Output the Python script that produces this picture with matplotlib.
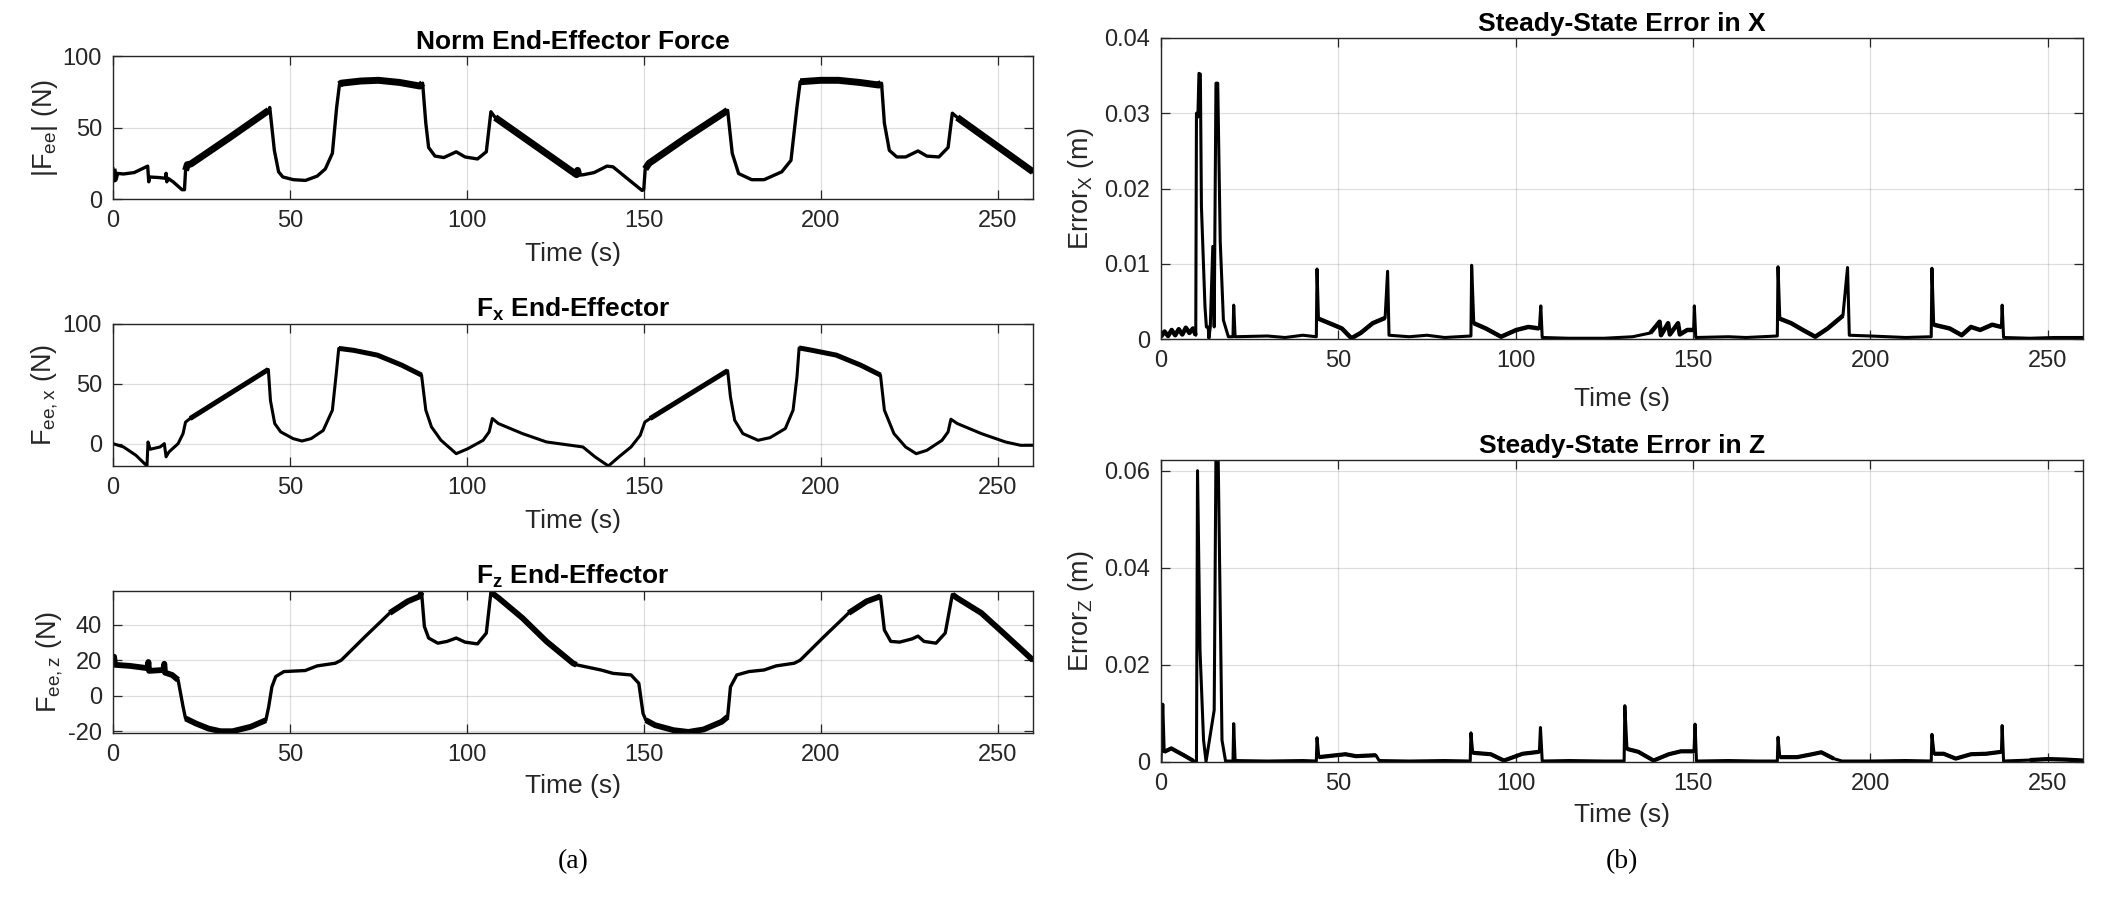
import matplotlib
matplotlib.use("Agg")
import matplotlib.pyplot as plt
from matplotlib.ticker import FuncFormatter

# ---------------- data ----------------
t_norm = [0, 0.4, 0.8, 3, 6, 9.8, 10.1, 10.3, 13, 14.8, 15, 15.2, 15.5, 17, 19.5, 20.2,
          20.5, 21, 22, 33, 44, 44.3, 45.6, 46.8, 48, 51, 54.4, 57.7, 60, 62, 63.2, 64,
          64.5, 70, 75, 81, 86.7, 87.5, 88.4, 89.2, 91, 93.5, 97, 99.5, 103, 105.5, 106.8,
          108, 131, 131.3, 131.6, 133, 136, 139.6, 141.3, 145, 149.5, 150, 150.4, 151.5,
          162, 173.7, 175, 176.8, 180.5, 184, 189, 191.6, 193.3, 194.2, 200, 205, 211,
          216.4, 217.2, 218, 219.4, 221.5, 224, 227.5, 230, 233.4, 236, 237.2, 238.6, 260]
f_norm = [21, 14, 18, 17.5, 18.5, 23, 12, 15.4, 15, 14.5, 18, 12, 14.5, 12, 6.5, 6.5,
          20, 24, 24.5, 43, 62, 64, 34, 19, 15.4, 13.5, 13, 16, 21, 32, 64, 80,
          81, 82.5, 83, 81.5, 79, 81, 53, 36, 30, 29, 33, 29.4, 28, 33, 61,
          57, 17, 20, 16.6, 17, 18.5, 23, 22.5, 15, 6, 6.5, 21, 25,
          43, 62, 32, 17.8, 13.5, 13.5, 19, 27, 64.5, 82, 83, 83, 81.5,
          79.7, 81, 53, 34, 29.4, 29.4, 33.6, 30, 29.4, 36, 60, 57, 19]
noisy_norm = [(0, 0.8), (20.5, 44), (64, 87.5), (108, 131.6), (150.4, 173.7),
              (194.2, 217.2), (238.6, 260)]

t_fx = [0, 3, 6.5, 9.6, 9.9, 10.5, 13.3, 14.5, 15, 15.8, 18.4, 19.8, 20.5, 21.8, 43.9,
        44.5, 45.7, 47.4, 50.9, 53.4, 56, 59.4, 62, 63.1, 63.8, 68, 74.7, 81.6, 87.2,
        88.4, 90, 92.7, 97, 100.3, 104.6, 106.3, 107.2, 108.9, 115.7, 122.5, 129.4,
        132.8, 136.2, 140, 143, 146.4, 149, 150.3, 151.8, 173.7, 174.5, 175.7, 178,
        182.3, 185.7, 190, 192.2, 193.3, 193.9, 197.6, 204.4, 211.3, 216.9, 218, 220.7,
        224, 227, 230, 234.3, 236, 236.8, 238.6, 245.4, 252.2, 256.5, 260]
f_x = [0, -2.8, -9.8, -18.7, 1.4, -4.7, -2.8, 0, -11, -7, 0, 8.4, 18, 21, 62,
       36, 16.8, 9.8, 4.2, 2.2, 4.2, 11, 28, 58.7, 79.6, 78, 74, 65.6, 57.3,
       28, 14, 2.8, -8.4, -4.2, 2.8, 9.8, 21, 16.8, 8.4, 1.4, -1.4,
       -2.8, -11, -18.7, -11, -2.8, 7, 18, 21, 61, 39, 19.5, 8.4,
       2.8, 5, 12.6, 28, 56, 80, 78, 74, 65.6, 57.3, 28, 8.4,
       -2.8, -8.4, -5.6, 2.8, 9.8, 20.4, 16.8, 8.4, 1.4, -1.4, -1.4]
noisy_fx = [(21.8, 43.9), (63.8, 87.2), (151.8, 173.7), (193.9, 216.9)]

t_fz = [0, 0.3, 0.6, 4.8, 9.8, 10, 10.2, 14.2, 14.5, 14.7, 16.7, 18.4, 19.8, 20.5, 23.5,
        27, 30.4, 33.8, 38.9, 43.2, 44, 44.9, 46, 48.3, 54.3, 57.7, 62.8, 64.5, 71.3,
        78.2, 83.3, 86.7, 87.2, 88, 89.2, 91.8, 94.4, 97, 99.5, 103, 105.5, 106.8, 109,
        115.7, 122.5, 130, 131, 137.9, 141.3, 146.4, 148.6, 149.8, 150.6, 153.2, 158.4,
        162.6, 166.9, 172, 173.7, 174.5, 176.3, 179.7, 184, 187.4, 192.5, 194.2, 201,
        207.9, 213, 216.9, 218, 219.8, 222.3, 225.8, 227.5, 229.2, 232.6, 235.2, 237.2,
        238.6, 245.4, 252.2, 260]
f_z = [20, 22, 17.4, 16.8, 15.5, 19, 14, 14.5, 18, 13, 11.7, 8.9, -6.2, -12.8, -15.7,
       -18.5, -20, -20, -17.5, -13.8, -6.2, 5, 10.8, 13.6, 14.2, 16.8, 18.3, 20, 33.4,
       46.6, 53.2, 56, 58.3, 39, 32.5, 29.6, 30.6, 32.5, 30.2, 29.2, 35.3, 58.3, 55,
       43.8, 30.6, 18.3, 17.4, 14.5, 12.6, 11.7, 7, -10, -13.8, -16.6, -19.4,
       -20.4, -19, -14.7, -11.9, 5, 11.7, 13.6, 14.5, 16.8, 18.3, 20, 33.4,
       46.6, 53.2, 56, 37, 30.6, 30.2, 32, 33.6, 30.6, 29.6, 35.3, 57,
       55, 46.6, 34.3, 20]
noisy_fz = [(0, 18.4), (20.5, 43.2), (78.2, 87.2), (106.8, 131), (150.6, 173.7),
            (207.9, 216.9), (237.2, 260)]

t_ex = [0, 1, 2, 3, 4, 5, 6, 7, 8, 9, 9.8, 10, 10.4, 10.7, 11.1, 11.4, 12.4, 12.8, 13.3,
        13.5, 13.9, 14.6, 15.0, 15.5, 16.0, 16.7, 17.6, 19.0, 20.3, 20.5, 20.9, 30, 35,
        40, 43.8, 44.0, 44.4, 48.5, 51, 53.7, 56.3, 59.7, 63.2, 63.9, 64.3, 70, 75, 80,
        87.4, 87.6, 88.2, 91.6, 95.9, 100.2, 103.6, 106.7, 107.1, 107.5, 115, 125, 133,
        138, 140.6, 141, 143, 143.5, 145.8, 146.3, 148.4, 150.2, 150.4, 150.8, 160, 165,
        173.8, 174.0, 174.5, 177.7, 181, 184.5, 188, 192.3, 193.6, 194.1, 200, 210,
        217.2, 217.4, 217.9, 222.4, 225.8, 228.4, 231, 234.4, 237.0, 237.2, 237.6, 245,
        252, 260]
err_x = [0.0003, 0.001, 0.0004, 0.0012, 0.0005, 0.0013, 0.0006, 0.0015, 0.0008, 0.0014,
         0.0005, 0.030, 0.0295, 0.0353, 0.0352, 0.0176, 0.0043, 0.0016, 0.0016,
         0.0001, 0.0016, 0.0123, 0.0016, 0.034, 0.034, 0.013, 0.0025, 0.0003, 0.0003,
         0.0045, 0.0003, 0.0004, 0.0002, 0.0005, 0.0003, 0.0093, 0.0027, 0.0019, 0.0014,
         0.0001, 0.0008, 0.0021, 0.0028, 0.009, 0.0005, 0.0003, 0.0005, 0.0002,
         0.0004, 0.0098, 0.0021, 0.0014, 0.0003, 0.0012, 0.0016, 0.0014, 0.0044, 0.0002,
         0.0001, 0.0001, 0.0003, 0.0008, 0.0023, 0.0005, 0.0021, 0.0006, 0.0021, 0.0006,
         0.0012, 0.0012, 0.0044, 0.0002, 0.0003, 0.0002, 0.0004, 0.0096, 0.0027, 0.0021,
         0.0012, 0.0003, 0.0014, 0.0031, 0.0095, 0.0005, 0.0004, 0.0002, 0.0003, 0.0094,
         0.0019, 0.0014, 0.0005, 0.0016, 0.0012, 0.0019, 0.0016, 0.0045, 0.0002, 0.0001,
         0.0002, 0.0002]
noisy_ex = [(0, 9.8), (44.4, 63.2), (88.2, 106.7), (138, 150.2), (174.5, 192.3),
            (217.9, 237.0)]

t_ez = [0, 0.5, 0.9, 2.9, 6.4, 9, 10.0, 10.3, 11.0, 12.0, 12.7, 15.0, 15.5, 16.1, 17.2,
        18.2, 20.3, 20.5, 20.9, 30, 40, 43.8, 44.0, 44.5, 52, 55, 60.6, 61.5, 70, 80,
        87.2, 87.4, 87.9, 93, 96.7, 102, 106.7, 107.0, 107.5, 115, 125, 130.6, 130.8,
        131.4, 134.6, 138.9, 143.2, 146.6, 150.3, 150.6, 151.0, 160, 168, 173.8, 174.0,
        174.5, 179.4, 183.6, 186.2, 189.7, 192, 200, 210, 217.2, 217.4, 218, 220.7, 224.1,
        228.4, 232.7, 237.0, 237.2, 237.6, 245, 250, 255, 260]
err_z = [0.0003, 0.0119, 0.0021, 0.0028, 0.0014, 0.0003, 0.0001, 0.060, 0.023, 0.0045,
         0.0001, 0.0107, 0.064, 0.064, 0.0045, 0.0002, 0.0002, 0.0079, 0.0003, 0.0002,
         0.0003, 0.0002, 0.0050, 0.0010, 0.0016, 0.0012, 0.0014, 0.0003, 0.0002, 0.0003,
         0.0002, 0.0060, 0.0019, 0.0016, 0.0003, 0.0017, 0.0021, 0.0071, 0.0002, 0.0003,
         0.0002, 0.0002, 0.0116, 0.0027, 0.0021, 0.0003, 0.0016, 0.0022, 0.0022, 0.0078,
         0.0002, 0.0003, 0.0002, 0.0002, 0.0051, 0.0010, 0.0010, 0.0016, 0.0020, 0.0007,
         0.0002, 0.0002, 0.0003, 0.0002, 0.0057, 0.0017, 0.0017, 0.0007, 0.0016, 0.0017,
         0.0021, 0.0075, 0.0002, 0.0004, 0.0006, 0.0005, 0.0003]
noisy_ez = [(0.9, 9), (44.5, 60.6), (87.9, 106.7), (131.4, 150.3), (174.5, 189.7),
            (218, 237.0), (240, 260)]

x_ticks = [0, 50, 100, 150, 200, 250]
titles = ["Norm End-Effector Force", r"F$_{\mathbf{x}}$ End-Effector", r"F$_{\mathbf{z}}$ End-Effector",
          "Steady-State Error in X", "Steady-State Error in Z"]
ylabels = [r"|F$_{\mathregular{ee}}$| (N)", r"F$_{\mathregular{ee,x}}$ (N)", r"F$_{\mathregular{ee,z}}$ (N)",
           r"Error$_{\mathregular{X}}$ (m)", r"Error$_{\mathregular{Z}}$ (m)"]

# ---------------- style ----------------
plt.rcParams['font.family'] = ['Liberation Sans', 'DejaVu Sans']
plt.rcParams['mathtext.fontset'] = 'custom'
plt.rcParams['mathtext.rm'] = 'Liberation Sans'
plt.rcParams['mathtext.bf'] = 'Liberation Sans:bold'
plt.rcParams['mathtext.it'] = 'Liberation Sans:italic'

W, H = 2108, 900
fig = plt.figure(figsize=(W / 100, H / 100), dpi=100)

def rect(x0, y0, x1, y1):
    return [x0 / W, 1 - y1 / H, (x1 - x0) / W, (y1 - y0) / H]

axes_px = [
    (113, 56, 1033, 199),
    (113, 324, 1033, 466),
    (113, 591, 1033, 733),
    (1161, 38, 2083, 339),
    (1161, 460, 2083, 762),
]
series = [(t_norm, f_norm, noisy_norm), (t_fx, f_x, noisy_fx), (t_fz, f_z, noisy_fz),
          (t_ex, err_x, noisy_ex), (t_ez, err_z, noisy_ez)]
ylims = [(0, 100), (-18.7, 100), (-21, 59), (0, 0.04), (0, 0.0622)]
yticks = [[0, 50, 100], [0, 50, 100], [-20, 0, 20, 40],
          [0, 0.01, 0.02, 0.03, 0.04], [0, 0.02, 0.04, 0.06]]
lws = [2.4, 2.2, 2.4, 2.2, 2.2]
noisy_lws = [5.0, 3.6, 4.2, 3.2, 3.0]
ylabel_pads = [2, 2, 2, 6, 6]
xlabel_pads = [7, 7, 6, 11, 6]

edge = '#262626'
for i, (px, (tt, vv, nz)) in enumerate(zip(axes_px, series)):
    ax = fig.add_axes(rect(*px))
    ax.plot(tt, vv, color='black', lw=lws[i])
    for a, b in nz:
        seg_t = [t for t in tt if a <= t <= b]
        seg_v = [v for t, v in zip(tt, vv) if a <= t <= b]
        ax.plot(seg_t, seg_v, color='black', lw=noisy_lws[i], solid_capstyle='butt')
    ax.set_xlim(0, 260)
    ax.set_ylim(*ylims[i])
    ax.set_xticks(x_ticks)
    ax.set_yticks(yticks[i])
    ax.yaxis.set_major_formatter(FuncFormatter(lambda v, p: f"{v:g}"))
    ax.grid(True, color='black', alpha=0.13, lw=0.9)
    ax.set_axisbelow(True)
    ax.tick_params(direction='in', top=True, right=True, length=6.5, width=0.9,
                   color=edge, labelsize=17, pad=8, labelcolor='#262626')
    for s in ax.spines.values():
        s.set_color(edge)
        s.set_linewidth(1.0)
    ax.set_title(titles[i], fontsize=19, fontweight='bold', pad=5, color='black')
    ax.set_xlabel("Time (s)", fontsize=19, labelpad=xlabel_pads[i], color='#262626')
    ax.set_ylabel(ylabels[i], fontsize=19.5, labelpad=ylabel_pads[i], color='#262626')

fig.text(573 / W, 1 - 862 / H, "(a)", ha='center', va='center', fontsize=20,
         family=['Liberation Serif', 'DejaVu Serif'])
fig.text(1622 / W, 1 - 862 / H, "(b)", ha='center', va='center', fontsize=20,
         family=['Liberation Serif', 'DejaVu Serif'])

fig.savefig("out.png", dpi=100)
